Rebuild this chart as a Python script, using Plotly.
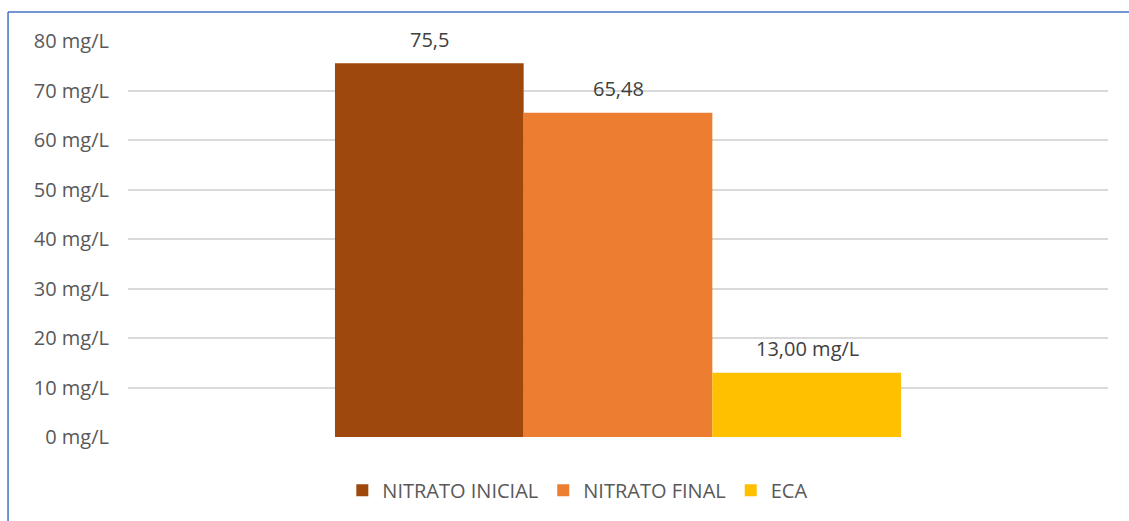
import plotly.graph_objects as go

# Nitrate concentration vs. environmental quality standard (ECA)
series = ["NITRATO INICIAL", "NITRATO FINAL", "ECA"]
values = [75.5, 65.48, 13.00]
labels = ["75,5", "65,48", "13,00 mg/L"]
colors = ["#9E480E", "#ED7D31", "#FFC000"]
category = [""]
y_ticks = [0, 10, 20, 30, 40, 50, 60, 70, 80]
y_tick_text = [f"{v} mg/L" for v in y_ticks]

fig = go.Figure()
for name, val, col in zip(series, values, colors):
    fig.add_trace(go.Bar(
        name=name, x=category, y=[val],
        marker=dict(color=col, line=dict(width=0)),
        hoverinfo="skip",
    ))

# value labels sitting above each bar
n = len(series)
for i, (val, lab) in enumerate(zip(values, labels)):
    fig.add_annotation(
        x=0, y=val, xref="x", yref="y", text=lab, showarrow=False,
        xshift=(i - (n - 1) / 2) * 189, yshift=24,
        font=dict(size=20, color="#404040", family="Open Sans"),
    )

# blue frame edges on left and top
frame = dict(color="#4472C4", width=1.5)
fig.add_shape(type="line", xref="paper", yref="paper", x0=-0.1224, x1=1.05,
              y0=1.0732, y1=1.0732, line=frame)
fig.add_shape(type="line", xref="paper", yref="paper", x0=-0.1224, x1=-0.1224,
              y0=-0.3, y1=1.0732, line=frame)

fig.update_layout(
    width=1129, height=521,
    margin=dict(l=128, r=21, t=41, b=84, autoexpand=False),
    paper_bgcolor="white", plot_bgcolor="white",
    barmode="group", bargap=0.4224, bargroupgap=0,
    font=dict(family="Open Sans", color="#595959", size=20),
    showlegend=True,
    legend=dict(orientation="h", x=0.459, xanchor="center", y=-0.085, yanchor="top",
                font=dict(size=20, color="#595959"), traceorder="normal",
                itemwidth=30),
)
fig.update_xaxes(showticklabels=False, showgrid=False, zeroline=False, showline=False)
fig.update_yaxes(
    range=[0, 80], tickmode="array", tickvals=y_ticks, ticktext=y_tick_text,
    showgrid=True, gridcolor="#D9D9D9", gridwidth=1.5,
    zeroline=False, showline=False, ticks="", ticklabelstandoff=18,
    tickfont=dict(size=20, color="#595959"),
)

fig.write_html("out.html")
